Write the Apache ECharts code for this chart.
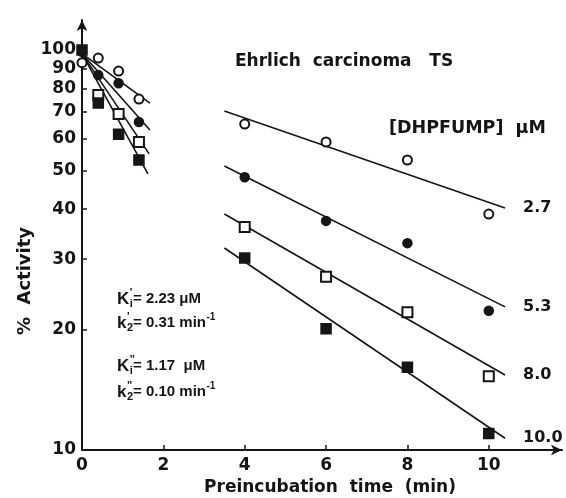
<!DOCTYPE html>
<html>
<head>
<meta charset="utf-8">
<script src="https://cdn.jsdelivr.net/npm/echarts@6/dist/echarts.min.js"></script>
<style>
  html, body { margin: 0; padding: 0; background: #fff; }
  #chart { width: 566px; height: 498px; }
</style>
</head>
<body>
<div id="chart"></div>
<script>
// ---- data ----
const concentrations = ['2.7', '5.3', '8.0', '10.0'];
const earlyTimes = [0.4, 0.9, 1.4];
const lateTimes = [4, 6, 8, 10];
const zeroTimeActivity = [93, 99, null, 100];
const act27Early = [95.5, 88.6, 75.4];
const act53Early = [86.6, 82.6, 66.1];
const act80Early = [77.2, 69.2, 58.9];
const act100Early = [73.7, 61.6, 53.1];
const act27Late = [65.3, 58.9, 53.1, 38.9];
const act53Late = [48.1, 37.4, 32.9, 22.3];
const act80Late = [36.1, 27.1, 22.1, 15.3];
const act100Late = [30.2, 20.1, 16.1, 11.0];
// fitted lines: [start time, start activity, end time, end activity]
const fitEarly27 = [0, 98, 1.67, 73.7];
const fitEarly53 = [0, 98, 1.67, 63.1];
const fitEarly80 = [0, 98, 1.65, 55.0];
const fitEarly100 = [0, 98, 1.62, 49.0];
const fitLate27 = [3.5, 70.4, 10.4, 40.3];
const fitLate53 = [3.5, 51.3, 10.4, 22.8];
const fitLate80 = [3.5, 38.9, 10.4, 15.4];
const fitLate100 = [3.5, 32.0, 10.4, 10.7];
const xTickLabels = [0, 2, 4, 6, 8, 10];
const yTickLabels = [10, 20, 30, 40, 50, 60, 70, 80, 90, 100];

// ---- build ----
const earlySets = [act27Early, act53Early, act80Early, act100Early];
const lateSets = [act27Late, act53Late, act80Late, act100Late];
const fitsEarly = [fitEarly27, fitEarly53, fitEarly80, fitEarly100];
const fitsLate = [fitLate27, fitLate53, fitLate80, fitLate100];
const symbols = ['emptyCircle', 'circle', 'emptyRect', 'rect'];
const symSizes = [9, 9, 10, 10];
const INK = '#151515';
const FONT = 'DejaVu Sans';

const series = [];
concentrations.forEach((c, i) => {
  const pts = [];
  if (zeroTimeActivity[i] != null) pts.push([0, zeroTimeActivity[i]]);
  earlyTimes.forEach((t, j) => pts.push([t, earlySets[i][j]]));
  lateTimes.forEach((t, j) => pts.push([t, lateSets[i][j]]));
  const fe = fitsEarly[i], fl = fitsLate[i];
  series.push({
    type: 'line', name: c + ' early fit', data: [[fe[0], fe[1]], [fe[2], fe[3]]],
    showSymbol: false, silent: true, z: 2,
    lineStyle: { color: INK, width: 1.6 }
  });
  series.push({
    type: 'line', name: c + ' fit', data: [[fl[0], fl[1]], [fl[2], fl[3]]],
    showSymbol: false, silent: true, z: 2,
    lineStyle: { color: INK, width: 1.6 },
    endLabel: {
      show: true, formatter: c, distance: 18, color: INK,
      fontFamily: FONT, fontWeight: 'bold', fontSize: 16
    }
  });
  series.push({
    type: 'scatter', name: c, data: pts, z: 3,
    symbol: symbols[i], symbolSize: symSizes[i],
    itemStyle: { color: INK, borderColor: INK, borderWidth: 1.5, opacity: 1 }
  });
});

// text annotations with stacked super/subscripts
const ctx = document.createElement('canvas').getContext('2d');
function tw(text, font) { ctx.font = font; return ctx.measureText(text).width; }
const AF = 'bold 15px "Liberation Sans"';
const MF = 'bold 17px "Liberation Sans"';
const SF = 'bold 11px "Liberation Sans"';
function annot(x, y, main, sup, sub, rest, tail) {
  const mw = tw(main, MF);
  const kids = [
    { type: 'text', x: 0, y: 0, style: { text: main, fill: INK, font: MF, verticalAlign: 'middle' } },
    { type: 'text', x: mw + 0.5, y: -6, style: { text: sup, fill: INK, font: SF, verticalAlign: 'middle' } },
    { type: 'text', x: mw + 0.5, y: 5, style: { text: sub, fill: INK, font: SF, verticalAlign: 'middle' } },
    { type: 'text', x: 16, y: 0, style: { text: rest, fill: INK, font: AF, verticalAlign: 'middle' } }
  ];
  if (tail) kids.push({ type: 'text', x: 16 + tw(rest, AF) + 0.5, y: -6,
    style: { text: tail, fill: INK, font: 'bold 10px "Liberation Sans"', verticalAlign: 'middle' } });
  return { type: 'group', x: x, y: y, children: kids };
}

const chart = echarts.init(document.getElementById('chart'), null, { renderer: 'canvas' });
chart.setOption({
  animation: false,
  backgroundColor: '#fff',
  grid: { left: 82, right: 4, top: 20, bottom: 48, containLabel: false, outerBoundsMode: 'none' },
  xAxis: {
    type: 'value', min: 0, max: 11.8,
    name: 'Preincubation  time  (min)', nameLocation: 'middle', nameGap: 27,
    nameTextStyle: { color: INK, fontFamily: FONT, fontWeight: 'bold', fontSize: 17, padding: [0, 0, 0, 16] },
    axisLine: { lineStyle: { color: INK, width: 2 }, symbol: ['none', 'arrow'], symbolSize: [8, 11] },
    axisTick: { inside: true, length: 5, lineStyle: { color: INK, width: 1.5 }, customValues: xTickLabels },
    axisLabel: { customValues: xTickLabels, color: INK, fontFamily: FONT, fontWeight: 'bold', fontSize: 17, margin: 7 },
    splitLine: { show: false }
  },
  yAxis: {
    type: 'log', logBase: 10, min: 10, max: 118.9,
    axisLine: { lineStyle: { color: INK, width: 2 }, symbol: ['none', 'arrow'], symbolSize: [8, 11] },
    axisTick: { inside: true, length: 5, lineStyle: { color: INK, width: 1.5 }, customValues: yTickLabels },
    axisLabel: { customValues: yTickLabels, color: INK, fontFamily: FONT, fontWeight: 'bold', fontSize: 17, margin: 6 },
    splitLine: { show: false },
    minorTick: { show: false }
  },
  series: series,
  graphic: [
    { type: 'text', left: 235, top: 53,
      style: { text: 'Ehrlich  carcinoma   TS', fill: INK, font: 'bold 17px "DejaVu Sans"' } },
    { type: 'text', left: 389, top: 119,
      style: { text: '[DHPFUMP]  μM', fill: INK, font: 'bold 17.5px "DejaVu Sans"' } },
    { type: 'text', x: 25, y: 281, rotation: Math.PI / 2,
      style: { text: '%  Activity', fill: INK, font: 'bold 18px "DejaVu Sans"', align: 'center', verticalAlign: 'middle' } },
    annot(117, 299, 'K', "'", 'i', '= 2.23 μM', null),
    annot(117, 323, 'k', "'", '2', '= 0.31 min', '-1'),
    annot(117, 366, 'K', '"', 'i', '= 1.17  μM', null),
    annot(117, 392, 'k', '"', '2', '= 0.10 min', '-1')
  ]
});
</script>
</body>
</html>
